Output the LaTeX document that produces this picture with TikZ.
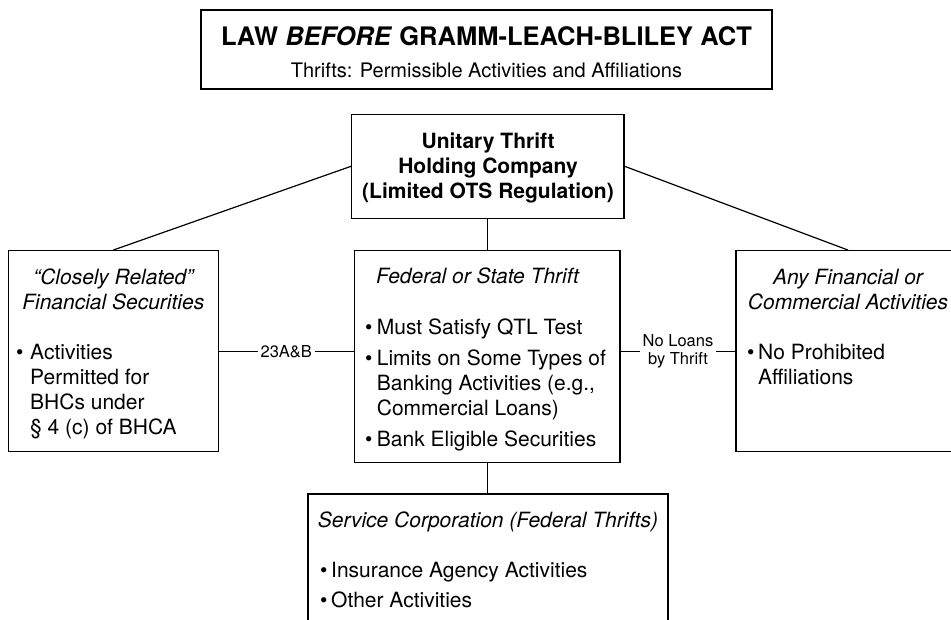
\documentclass[tikz,border=0pt]{standalone}
\usepackage{fontspec}
\setmainfont{TeX Gyre Heros}
\begin{document}
\begin{tikzpicture}[x=1pt,y=-1pt,
  box/.style={draw, line width=1.3pt, rectangle, inner sep=0pt},
  conn/.style={line width=1.2pt},
  txt/.style={inner sep=0pt, font=\fontsize{21}{25}\selectfont},
  txtc/.style={txt, anchor=base},
  txtl/.style={txt, anchor=base west},
  head/.style={txtc, font=\fontsize{21}{25}\selectfont\itshape},
  headl/.style={txtl, font=\fontsize{21}{25}\selectfont\itshape},
  lbl/.style={fill=white, inner xsep=3pt, inner ysep=1pt, align=center,
    font=\fontsize{16.5}{18.5}\selectfont}]
\useasboundingbox (0,0) rectangle (951,619);
\clip (0,0) rectangle (951,619);

% boxes
\node[box, minimum width=571pt, minimum height=79pt] (titlebox) at (486.5,49.5) {};
\node[box, minimum width=272.3pt, minimum height=104pt] (holdbox) at (487.85,166.3) {};
\node[box, minimum width=210pt, minimum height=201pt] (leftbox) at (113.3,351.2) {};
\node[box, minimum width=265.7pt, minimum height=211.6pt] (centerbox) at (487.15,356.5) {};
\node[box, minimum width=224pt, minimum height=201pt] (rightbox) at (848,351.2) {};
\node[box, minimum width=360pt, minimum height=166pt] (servbox) at (488,577) {};

% title
\node[txtc, font=\fontsize{25.5}{30}\selectfont\bfseries] (title) at (486.5,45)
  {LAW \textit{BEFORE} GRAMM-LEACH-BLILEY ACT};
\node[txtc, font=\fontsize{20}{24}\selectfont] (subtitle) at (486.5,77)
  {Thrifts: Permissible Activities and Affiliations};

% holding company
\node[txtc, font=\fontsize{21}{25}\selectfont\bfseries] (hold1) at (488,148) {Unitary Thrift};
\node[txtc, font=\fontsize{21}{25}\selectfont\bfseries] (hold2) at (488,173) {Holding Company};
\node[txtc, font=\fontsize{21}{25}\selectfont\bfseries] (hold3) at (488,198) {(Limited OTS Regulation)};

% closely related securities
\node[head] (lh1) at (113.3,284) {“Closely Related”};
\node[head] (lh2) at (113.3,309) {Financial Securities};
\node[txtl] (lb) at (16,359) {•};
\node[txtl] (l1) at (30,359) {Activities};
\node[txtl] (l2) at (30,384) {Permitted for};
\node[txtl] (l3) at (30,409) {BHCs under};
\node[txtl] (l4) at (30,434) {§ 4 (c) of BHCA};

% thrift
\node[headl] (ch) at (376,283) {Federal or State Thrift};
\node[txtl] (cb1) at (365,334) {•};
\node[txtl] (c1) at (376.7,334) {Must Satisfy QTL Test};
\node[txtl] (cb2) at (365,365) {•};
\node[txtl] (c2) at (376.7,365) {Limits on Some Types of};
\node[txtl] (c3) at (376.7,390) {Banking Activities (e.g.,};
\node[txtl] (c4) at (376.7,415) {Commercial Loans)};
\node[txtl] (cb3) at (365,446) {•};
\node[txtl] (c5) at (376.7,446) {Bank Eligible Securities};

% any activities
\node[head] (rh1) at (848,284) {Any Financial or};
\node[head] (rh2) at (848,309) {Commercial Activities};
\node[txtl] (rb) at (747,359) {•};
\node[txtl] (r1) at (758,359) {No Prohibited};
\node[txtl] (r2) at (758,384) {Affiliations};

% service corporation
\node[head] (sh) at (488,527.5) {Service Corporation (Federal Thrifts)};
\node[txtl] (sb1) at (320,577.5) {•};
\node[txtl] (s1) at (331,577.5) {Insurance Agency Activities};
\node[txtl] (sb2) at (320,607.5) {•};
\node[txtl] (s2) at (331,607.5) {Other Activities};

% connectors
\draw[conn] (holdbox.west) -- (leftbox.north);
\draw[conn] (holdbox.east) -- (rightbox.north);
\draw[conn] (holdbox.south) -- (holdbox.south |- centerbox.north);
\draw[conn] (centerbox.south) -- (centerbox.south |- servbox.north);
\draw[conn] (leftbox.east) -- node[lbl] (l23) {23A\&B} (leftbox.east -| centerbox.west);
\draw[conn] (centerbox.east |- rightbox.west) -- node[lbl] (lnoloan) {No Loans\\by Thrift} (rightbox.west);
\end{tikzpicture}
\end{document}
